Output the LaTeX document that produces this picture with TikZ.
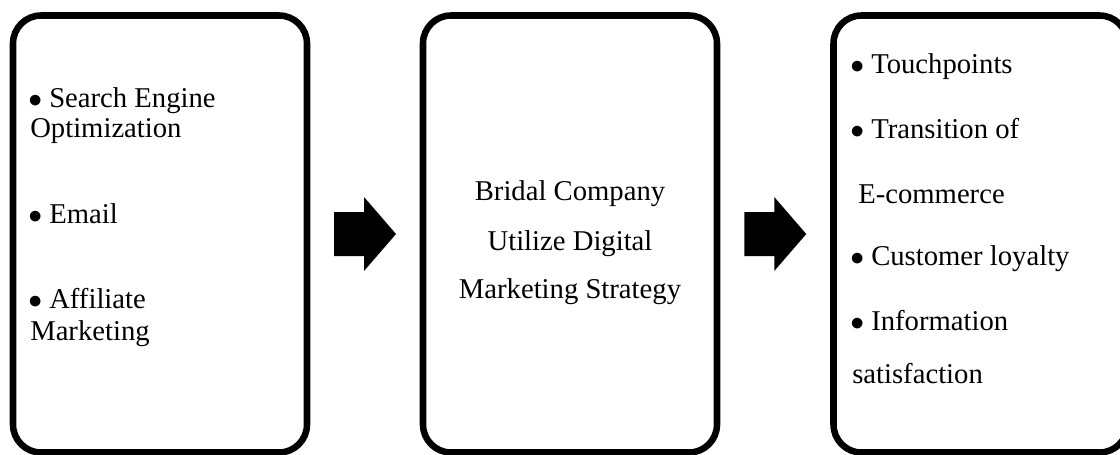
\documentclass[tikz,border=0pt]{standalone}
\usepackage{fontspec}
\setmainfont{Liberation Serif}
\usetikzlibrary{calc}
\newcommand{\boxWidth}{294}
\newcommand{\boxHeight}{437}
\newcommand{\boxMid}{234}
\newcommand{\bul}{$\bullet$ }
\newcommand{\blockArrow}[1] %center
{\fill (#1) ++(-31,-22)--++(30,0)--++(0,-15)--++(32,37)--++(-32,37)--++(0,-15)--++(-30,0)--cycle;}

\begin{document}
\begin{tikzpicture}[x=0.75pt,y=-0.75pt,
	panel/.style={draw,rectangle,rounded corners=21pt,line width=4.9pt,minimum width=\boxWidth*0.75pt,minimum height=\boxHeight*0.75pt,inner sep=0pt},
	itemline/.style={anchor=base west,inner sep=0pt,font=\fontsize{21.5}{26}\selectfont},
	midline/.style={anchor=base,inner sep=0pt,font=\fontsize{21.5}{26}\selectfont}]
	\useasboundingbox (0,0) rectangle (1120,454);
	% a három doboz
	\node[panel] (inputs) at (160,\boxMid) {};
	\node[panel] (firm) at (570,\boxMid) {};
	\node[panel] (outcomes) at (980.5,\boxMid) {};
	% nyilak a dobozok között
	\coordinate (arrowA) at ($(inputs.east)!0.5!(firm.west)$);
	\coordinate (arrowB) at ($(firm.east)!0.5!(outcomes.west)$);
	\blockArrow{arrowA}
	\blockArrow{arrowB}
	% bal doboz szövege
	\node[itemline] (seo) at (28,107) {\bul Search Engine};
	\node[itemline] (seoB) at (30,137) {Optimization};
	\node[itemline] (email) at (28,223) {\bul Email};
	\node[itemline] (affiliate) at (28,308) {\bul Affiliate};
	\node[itemline] (affiliateB) at (30,340) {Marketing};
	% középső doboz szövege
	\node[midline] (bridal) at (570,200) {Bridal Company};
	\node[midline] (utilize) at (570,250) {Utilize Digital};
	\node[midline] (strategy) at (570,298) {Marketing Strategy};
	% jobb doboz szövege
	\node[itemline] (touch) at (850,73) {\bul Touchpoints};
	\node[itemline] (transition) at (850,138) {\bul Transition of};
	\node[itemline] (transitionB) at (858,203) {E-commerce};
	\node[itemline] (loyalty) at (850,265) {\bul Customer loyalty};
	\node[itemline] (info) at (850,330) {\bul Information};
	\node[itemline] (infoB) at (852,383) {satisfaction};
\end{tikzpicture}
\end{document}
